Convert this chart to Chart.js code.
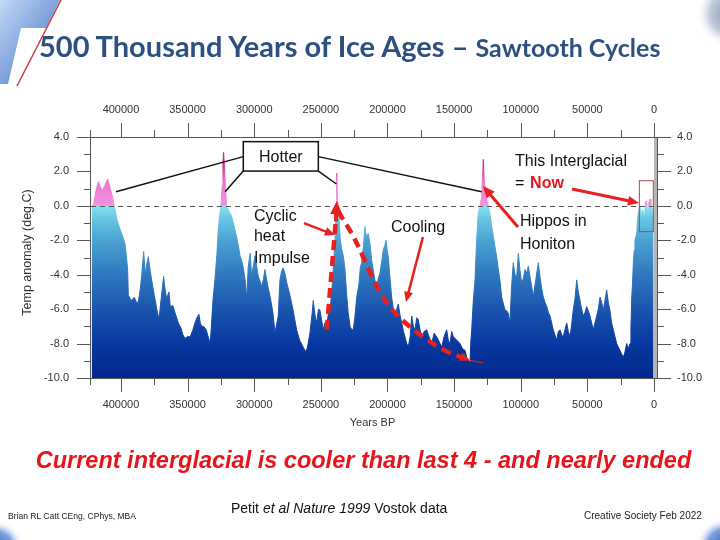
<!DOCTYPE html>
<html>
<head>
<meta charset="utf-8">
<script src="https://cdn.jsdelivr.net/npm/chart.js@4.4.1/dist/chart.umd.min.js"></script>
<style>
  body { margin: 0; background: #fff; }
  #slide { position: relative; width: 720px; height: 540px; overflow: hidden; background: #fff; font-family: "Liberation Sans", Arial, sans-serif; }
  #deco { position: absolute; left: 0; top: 0; }
  #chart { position: absolute; left: 0; top: 0; }
  .title { position: absolute; left: 39px; top: 27px; line-height: 38px; white-space: nowrap; color: #2e4f80; font-family: Lato, "Open Sans", sans-serif; font-weight: 700; }
  .title .big { font-size: 29px; }
  .title .small { font-size: 25px; }
  .note { position: absolute; white-space: nowrap; }
  .claim { left: 0; width: 727px; top: 447px; text-align: center; color: #e8141c; font-size: 23.5px; font-weight: 700; font-style: italic; }
  .source { left: 231px; top: 500px; font-size: 14px; color: #111; }
  .author { left: 8px; top: 510px; font-size: 9.5px; color: #222; transform: scaleX(0.9); transform-origin: left center; }
  .society { left: 584px; top: 510px; font-size: 10px; color: #222; }
</style>
</head>
<body>
<div id="slide">
  <svg id="deco" width="720" height="540">
    <defs>
      <linearGradient id="gTL" x1="0" y1="0" x2="1" y2="1">
        <stop offset="0" stop-color="#c3d9f5"/>
        <stop offset="1" stop-color="#3a6cc4"/>
      </linearGradient>
      <radialGradient id="gCorner">
        <stop offset="0" stop-color="#2f5fb8"/>
        <stop offset="0.6" stop-color="#7fa3dc"/>
        <stop offset="1" stop-color="#ffffff" stop-opacity="0"/>
      </radialGradient>
      <radialGradient id="gGray">
        <stop offset="0" stop-color="#7f94b4"/>
        <stop offset="0.6" stop-color="#c2ccdc"/>
        <stop offset="1" stop-color="#ffffff" stop-opacity="0"/>
      </radialGradient>
    </defs>
    <polygon points="0,0 60,0 46,28 21,28 8,84 0,84" fill="url(#gTL)"/>
    <line x1="61" y1="0" x2="17" y2="86" stroke="#d23a3a" stroke-width="1.5"/>
    <circle cx="730" cy="14" r="34" fill="url(#gGray)"/>
    <circle cx="-4" cy="548" r="28" fill="url(#gCorner)"/>
    <circle cx="724" cy="546" r="28" fill="url(#gCorner)"/>
  </svg>
  <canvas id="chart" width="720" height="540"></canvas>
  <div class="title"><span class="big">500 Thousand Years of Ice Ages – </span><span class="small">Sawtooth Cycles</span></div>
  <div class="note claim">Current interglacial is cooler than last 4 - and nearly ended</div>
  <div class="note source">Petit <i>et al Nature 1999</i> Vostok data</div>
  <div class="note author">Brian RL Catt CEng, CPhys, MBA</div>
  <div class="note society">Creative Society Feb 2022</div>
</div>
<script>
// Vostok temperature anomaly (age in thousand years BP)
const ageKyr = [
  422.0, 420.5, 418.5, 417.0, 415.5, 414.0, 412.0, 410.0, 408.0, 406.0,
  405.0, 403.0, 401.0, 399.0, 397.0, 396.0, 395.0, 394.5, 393.0, 392.0,
  390.0, 388.5, 387.0, 385.5, 384.5, 383.0, 382.0, 381.5, 380.5, 379.5,
  378.0, 377.0, 375.0, 373.0, 371.5, 370.0, 368.0, 367.0, 365.7, 364.0,
  363.0, 361.0, 359.5, 357.0, 355.0, 353.5, 352.0, 350.0, 348.0, 346.0,
  344.5, 343.0, 341.5, 340.5, 339.5, 338.0, 336.0, 335.0, 333.0, 332.0,
  331.0, 329.5, 328.0, 327.0, 326.0, 325.0, 324.0, 323.5, 323.0, 322.3,
  321.5, 320.7, 319.0, 317.0, 315.0, 313.0, 311.5, 310.7, 309.0, 308.0,
  306.5, 305.7, 305.0, 304.5, 303.0, 302.0, 300.5, 299.4, 298.0, 297.0,
  295.5, 294.4, 293.0, 292.0, 290.0, 288.0, 286.0, 284.4, 283.0, 282.0,
  280.7, 279.5, 278.3, 277.0, 275.5, 273.2, 271.0, 268.2, 266.0, 264.0,
  262.0, 261.0, 260.0, 258.2, 256.5, 255.7, 254.5, 253.1, 251.8, 250.7,
  249.5, 248.2, 247.0, 245.6, 244.3, 243.2, 242.0, 241.0, 240.2, 239.4,
  238.6, 238.1, 237.6, 236.9, 236.2, 235.6, 234.4, 233.2, 232.0, 230.6,
  229.5, 228.1, 226.8, 225.7, 224.5, 223.1, 221.5, 220.4, 219.4, 218.0,
  216.9, 215.8, 214.4, 213.1, 212.0, 210.7, 209.5, 208.1, 206.8, 205.6,
  204.3, 203.2, 202.0, 201.1, 200.2, 199.4, 198.0, 196.9, 195.6, 194.4,
  193.2, 191.9, 190.5, 189.3, 188.0, 186.9, 185.6, 184.4, 183.0, 181.8,
  180.6, 179.4, 178.0, 176.9, 175.6, 174.3, 172.5, 170.6, 168.8, 166.8,
  165.0, 163.1, 161.2, 159.3, 157.5, 155.6, 154.4, 153.1, 151.8, 150.6,
  148.0, 145.6, 143.7, 141.8, 140.6, 139.4, 138.1, 137.4, 136.8, 135.6,
  134.3, 133.1, 131.9, 130.6, 129.3, 128.6, 128.1, 127.4, 126.1, 124.3,
  123.0, 121.8, 120.5, 119.3, 118.0, 116.8, 115.5, 114.3, 113.0, 111.8,
  110.5, 109.3, 108.1, 106.8, 105.6, 104.3, 103.0, 101.8, 100.6, 99.3,
  98.0, 96.8, 95.5, 94.3, 93.1, 91.8, 90.6, 89.3, 88.0, 86.8,
  85.6, 84.3, 83.1, 81.8, 80.5, 79.2, 78.0, 76.8, 75.6, 74.3,
  73.0, 71.8, 70.5, 69.3, 68.1, 66.8, 65.5, 64.3, 63.0, 61.8,
  60.6, 59.3, 58.0, 56.8, 55.5, 54.3, 53.1, 51.8, 50.5, 49.3,
  48.0, 46.8, 45.6, 44.3, 43.0, 41.8, 40.5, 39.3, 38.0, 36.8,
  35.5, 34.3, 33.0, 31.8, 30.5, 29.3, 28.0, 26.8, 25.5, 24.3,
  23.0, 21.8, 20.5, 19.3, 18.0, 17.3, 16.7, 16.1, 15.5, 14.9,
  14.3, 13.6, 13.0, 12.4, 11.8, 11.2, 10.5, 9.5, 8.8, 8.0,
  7.2, 6.5, 5.5, 4.8, 4.2, 3.0, 2.3, 1.7, 1.0, 0.3
];
const tempAnomaly = [
  0.0, 0.1, 1.0, 1.4, 1.1, 0.9, 1.2, 1.55, 1.0, 0.4,
  0.0, -0.8, -1.3, -1.7, -2.2, -2.9, -3.7, -5.2, -5.4, -5.5,
  -5.3, -5.6, -5.6, -4.8, -4.1, -2.65, -3.6, -4.0, -3.3, -2.95,
  -3.8, -4.3, -5.2, -6.05, -6.6, -5.5, -4.1, -4.8, -5.4, -5.0,
  -5.85, -5.8, -6.2, -6.8, -7.1, -7.5, -7.7, -7.6, -7.6, -7.2,
  -6.8, -6.5, -6.3, -6.8, -7.0, -7.0, -7.2, -7.5, -8.0, -6.8,
  -5.5, -4.3, -2.8, -1.4, -0.6, 0.0, 1.2, 2.5, 3.1, 2.2,
  1.0, 0.0, -0.3, -0.6, -1.2, -1.9, -2.5, -2.9, -3.3, -3.7,
  -4.5, -5.5, -4.4, -3.5, -2.75, -4.1, -3.4, -2.9, -3.6, -4.1,
  -4.4, -4.7, -4.2, -3.7, -4.6, -5.3, -6.2, -7.4, -6.8, -6.4,
  -4.3, -3.8, -3.6, -3.9, -4.5, -5.2, -6.0, -7.2, -7.8, -8.1,
  -8.4, -8.45, -8.2, -7.4, -6.2, -5.5, -6.3, -6.8, -6.0, -6.05,
  -6.6, -7.2, -6.8, -7.0, -6.2, -6.05, -5.2, -4.1, -3.0, -2.0,
  -0.5, 1.9, 0.3, -0.1, -0.8, -1.8, -2.5, -2.9, -3.6, -5.2,
  -6.2, -7.0, -7.2, -7.2, -6.5, -5.3, -4.6, -3.6, -3.3, -2.3,
  -1.2, -1.8, -1.6, -2.2, -3.1, -3.7, -4.3, -4.7, -4.2, -3.9,
  -3.2, -2.56, -2.3, -2.0, -2.6, -2.95, -4.3, -5.3, -6.0, -6.4,
  -6.0, -5.7, -6.4, -6.8, -7.3, -7.6, -8.0, -8.2, -7.6, -6.4,
  -7.0, -7.2, -6.5, -6.6, -7.2, -7.6, -7.3, -7.2, -7.6, -8.0,
  -7.4, -7.6, -7.9, -8.2, -7.6, -7.2, -7.8, -8.0, -7.3, -7.6,
  -7.8, -8.0, -8.3, -8.4, -8.8, -8.95, -9.15, -7.8, -7.2, -5.5,
  -4.3, -2.0, -0.4, 0.0, 0.55, 1.8, 2.7, 1.5, 0.55, 0.0,
  -0.5, -1.2, -1.8, -2.4, -3.0, -3.7, -4.4, -5.3, -5.7, -6.05,
  -6.1, -6.25, -6.8, -4.6, -3.3, -4.0, -4.1, -2.75, -3.7, -4.5,
  -4.2, -3.7, -3.9, -3.5, -4.1, -4.7, -5.3, -4.6, -3.9, -3.3,
  -4.1, -4.8, -5.3, -5.6, -5.85, -6.2, -6.4, -6.8, -7.2, -7.5,
  -7.8, -7.3, -7.2, -7.5, -7.6, -7.2, -6.8, -7.3, -7.6, -6.9,
  -6.05, -5.4, -4.3, -5.0, -5.5, -6.0, -6.4, -6.2, -5.85, -6.1,
  -6.4, -6.8, -7.2, -6.8, -6.4, -6.0, -5.3, -5.6, -6.05, -5.5,
  -4.9, -5.6, -6.1, -6.8, -7.2, -7.6, -8.0, -8.2, -8.4, -8.6,
  -8.8, -8.5, -8.0, -8.3, -8.0, -7.0, -5.3, -4.5, -3.3, -2.6,
  -2.0, -1.8, -1.6, -0.8, -0.4, -0.2, 0.0, -0.8, -0.2, -0.4,
  -1.0, 0.2, 0.3, -0.6, 0.1, 0.4, -0.3, 0.0, -0.6, -0.5
];

// axis ticks
const yearMajor = [400000, 350000, 300000, 250000, 200000, 150000, 100000, 50000, 0];
const yearMinor = [375000, 325000, 275000, 225000, 175000, 125000, 75000, 25000];
const tempMajor = [4, 2, 0, -2, -4, -6, -8, -10];
const tempMinor = [3, 1, -1, -3, -5, -7, -9];

Chart.defaults.font.family = '"Liberation Sans", Arial, sans-serif';

function fillGradient(context) {
  const chart = context.chart;
  if (!chart.chartArea) return '#2f78bf';
  const y = chart.scales.y;
  const g = chart.ctx.createLinearGradient(0, y.getPixelForValue(-10), 0, y.getPixelForValue(3.5));
  const s = v => (v + 10) / 13.5;
  g.addColorStop(s(-10), '#00288a');
  g.addColorStop(s(-8), '#0838a0');
  g.addColorStop(s(-6), '#1a55ae');
  g.addColorStop(s(-4), '#2f78bf');
  g.addColorStop(s(-2), '#4aa2d2');
  g.addColorStop(s(-0.6), '#6ccbe6');
  g.addColorStop(s(0), '#88e2f0');
  g.addColorStop(s(0.03), '#f293df');
  g.addColorStop(s(1.4), '#ea78d0');
  g.addColorStop(s(2.2), '#d8408e');
  g.addColorStop(s(3.5), '#c80c30');
  return g;
}

function arrow(ctx, x1, y1, x2, y2, color, width, head) {
  const ang = Math.atan2(y2 - y1, x2 - x1);
  ctx.strokeStyle = color;
  ctx.fillStyle = color;
  ctx.lineWidth = width;
  ctx.beginPath();
  ctx.moveTo(x1, y1);
  ctx.lineTo(x2 - head * 0.8 * Math.cos(ang), y2 - head * 0.8 * Math.sin(ang));
  ctx.stroke();
  ctx.beginPath();
  ctx.moveTo(x2, y2);
  ctx.lineTo(x2 - head * Math.cos(ang - 0.42), y2 - head * Math.sin(ang - 0.42));
  ctx.lineTo(x2 - head * Math.cos(ang + 0.42), y2 - head * Math.sin(ang + 0.42));
  ctx.closePath();
  ctx.fill();
}

const overlay = {
  id: 'overlay',
  afterDatasetsDraw(chart) {
    const { ctx, chartArea: a, scales: { x, y } } = chart;
    const px = k => x.getPixelForValue(k * 1000);
    const py = t => y.getPixelForValue(t);
    ctx.save();

    // zero line
    ctx.strokeStyle = '#555';
    ctx.lineWidth = 1;
    ctx.setLineDash([5, 4]);
    ctx.beginPath();
    ctx.moveTo(a.left, Math.round(py(0)) + 0.5);
    ctx.lineTo(a.right, Math.round(py(0)) + 0.5);
    ctx.stroke();
    ctx.setLineDash([]);

    // frame
    ctx.fillStyle = '#b5b5b5';
    ctx.fillRect(a.right, a.top, 3, a.bottom - a.top);
    ctx.strokeStyle = '#555';
    ctx.beginPath();
    ctx.moveTo(a.left - 10, a.top + 0.5); ctx.lineTo(a.right + 3, a.top + 0.5);
    ctx.moveTo(a.left - 10, a.bottom + 0.5); ctx.lineTo(a.right + 3, a.bottom + 0.5);
    ctx.moveTo(a.left - 0.5, a.top - 7); ctx.lineTo(a.left - 0.5, a.bottom + 7);
    ctx.moveTo(a.right + 3.5, a.top); ctx.lineTo(a.right + 3.5, a.bottom);
    ctx.stroke();

    // ticks
    ctx.beginPath();
    const xt = (v, len) => {
      const p = Math.round(x.getPixelForValue(v)) + 0.5;
      ctx.moveTo(p, a.top); ctx.lineTo(p, a.top - len);
      ctx.moveTo(p, a.bottom); ctx.lineTo(p, a.bottom + len);
    };
    const yt = (v, len) => {
      const p = Math.round(py(v)) + 0.5;
      ctx.moveTo(a.left, p); ctx.lineTo(a.left - len, p);
      ctx.moveTo(a.right + 3, p); ctx.lineTo(a.right + 3 + len, p);
    };
    yearMajor.forEach(v => xt(v, 14));
    yearMinor.forEach(v => xt(v, 7));
    tempMajor.forEach(v => yt(v, 14));
    tempMinor.forEach(v => yt(v, 7));
    ctx.stroke();

    // axis titles
    ctx.fillStyle = '#333';
    ctx.font = '11px "Liberation Sans", Arial';
    ctx.textAlign = 'center';
    ctx.textBaseline = 'middle';
    ctx.fillText('Years BP', (a.left + a.right) / 2, a.bottom + 45);
    ctx.save();
    ctx.translate(28, (a.top + a.bottom) / 2 - 5);
    ctx.rotate(-Math.PI / 2);
    ctx.font = '12.5px "Liberation Sans", Arial';
    ctx.fillText('Temp anomaly (deg.C)', 0, 0);
    ctx.restore();

    // "Hotter" callout
    ctx.strokeStyle = '#111';
    ctx.lineWidth = 1.5;
    ctx.beginPath();
    ctx.moveTo(px(308.2), py(2.86)); ctx.lineTo(px(403.7), py(0.82));
    ctx.moveTo(px(308.2), py(2.02)); ctx.lineTo(px(321.9), py(0.82));
    ctx.moveTo(px(251.9), py(2.02)); ctx.lineTo(px(238.3), py(1.27));
    ctx.moveTo(px(251.9), py(2.86)); ctx.lineTo(px(129.3), py(0.82));
    ctx.stroke();
    const bx = px(308.2), by = py(3.73), bw = px(251.9) - bx, bh = py(2.02) - by;
    ctx.fillStyle = '#fff';
    ctx.fillRect(bx, by, bw, bh);
    ctx.strokeRect(bx, by, bw, bh);
    ctx.fillStyle = '#111';
    ctx.font = '16px "Liberation Sans", Arial';
    ctx.textAlign = 'center';
    ctx.fillText('Hotter', bx + bw / 2, by + bh / 2 + 1);

    // labels
    ctx.textAlign = 'left';
    ctx.fillText('Cyclic', px(300.2), py(-0.65));
    ctx.fillText('heat', px(300.2), py(-1.81));
    ctx.fillText('Impulse', px(300.2), py(-3.09));
    ctx.fillText('Cooling', px(197.4), py(-1.29));
    ctx.fillText('This Interglacial', px(104.3), py(2.55));
    ctx.fillText('=', px(104.3), py(1.27));
    ctx.fillText('Hippos in', px(100.6), py(-0.94));
    ctx.fillText('Honiton', px(100.6), py(-2.27));
    ctx.fillStyle = '#e8141c';
    ctx.font = 'bold 16px "Liberation Sans", Arial';
    ctx.fillText('Now', px(93.0), py(1.27));

    // red arrows
    const red = '#e8201e';
    arrow(ctx, px(262.7), py(-1.0), px(239.4), py(-1.69), red, 2.5, 11);
    arrow(ctx, px(173.4), py(-1.81), px(186.1), py(-5.58), red, 2.5, 11);
    arrow(ctx, px(61.5), py(0.98), px(11.3), py(0.17), red, 3, 12);
    arrow(ctx, px(102.1), py(-1.23), px(128.3), py(1.15), red, 3, 13);

    // "Now" box
    ctx.strokeStyle = '#b04050';
    ctx.lineWidth = 1;
    const nx = px(11.0), ny = py(1.46);
    ctx.strokeRect(nx, ny, px(0.5) - nx, py(-1.5) - ny);

    // dashed heat impulse and cooling curve
    ctx.strokeStyle = red;
    ctx.lineWidth = 4.5;
    ctx.setLineDash([10, 6]);
    ctx.beginPath();
    ctx.moveTo(px(245.6), py(-7.2));
    ctx.lineTo(px(238.6), py(-0.7));
    ctx.stroke();
    const curve = [[237.3, -0.3], [228.1, -1.39], [220.6, -2.55], [213.1, -3.9], [205.6, -5.06],
      [196.9, -6.03], [186.9, -6.8], [175.6, -7.48], [163.1, -8.16], [150.6, -8.64], [140.0, -8.9]];
    ctx.beginPath();
    ctx.moveTo(px(curve[0][0]), py(curve[0][1]));
    for (let i = 1; i < curve.length - 1; i++) {
      const mx = (px(curve[i][0]) + px(curve[i + 1][0])) / 2;
      const my = (py(curve[i][1]) + py(curve[i + 1][1])) / 2;
      ctx.quadraticCurveTo(px(curve[i][0]), py(curve[i][1]), mx, my);
    }
    ctx.lineTo(px(curve[curve.length - 1][0]), py(curve[curve.length - 1][1]));
    ctx.stroke();
    ctx.setLineDash([]);
    arrow(ctx, px(238.7), py(-0.9), px(238.0), py(0.3), red, 4, 15);
    arrow(ctx, px(143.0), py(-8.82), px(138.1), py(-8.98), red, 3, 11);
    ctx.lineWidth = 1.2;
    ctx.beginPath();
    ctx.moveTo(px(138.1), py(-8.98));
    ctx.lineTo(px(128.3), py(-9.13));
    ctx.stroke();

    ctx.restore();
  }
};

const tickFont = { size: 11 };
const xAxis = (position, height) => ({
  type: 'linear', position, reverse: true, min: 0, max: 422500,
  afterBuildTicks: s => { s.ticks = yearMajor.map(v => ({ value: v })); },
  afterFit: s => { s.height = height; },
  ticks: { callback: v => String(v), color: '#333', font: tickFont, padding: 6, autoSkip: false, maxRotation: 0 },
  grid: { display: false, drawTicks: true, tickLength: 14 },
  border: { display: false }
});
const yAxis = (position, width, padding) => ({
  type: 'linear', position, min: -10, max: 4,
  afterBuildTicks: s => { s.ticks = tempMajor.map(v => ({ value: v })); },
  afterFit: s => { s.width = width; },
  ticks: { callback: v => v.toFixed(1), color: '#333', font: tickFont, padding },
  grid: { display: false, drawTicks: true, tickLength: 14 },
  border: { display: false }
});

new Chart(document.getElementById('chart'), {
  type: 'line',
  data: {
    datasets: [{
      data: ageKyr.map((a, i) => ({ x: a * 1000, y: tempAnomaly[i] })),
      fill: 'start',
      backgroundColor: fillGradient,
      borderColor: fillGradient,
      borderWidth: 1,
      pointRadius: 0,
      tension: 0
    }]
  },
  options: {
    responsive: false,
    animation: false,
    layout: { padding: 0 },
    plugins: { legend: { display: false }, tooltip: { enabled: false } },
    scales: {
      x: xAxis('bottom', 162),
      xTop: xAxis('top', 137),
      y: yAxis('left', 91, 8),
      yRight: yAxis('right', 66, 9)
    }
  },
  plugins: [overlay]
});
</script>
</body>
</html>
